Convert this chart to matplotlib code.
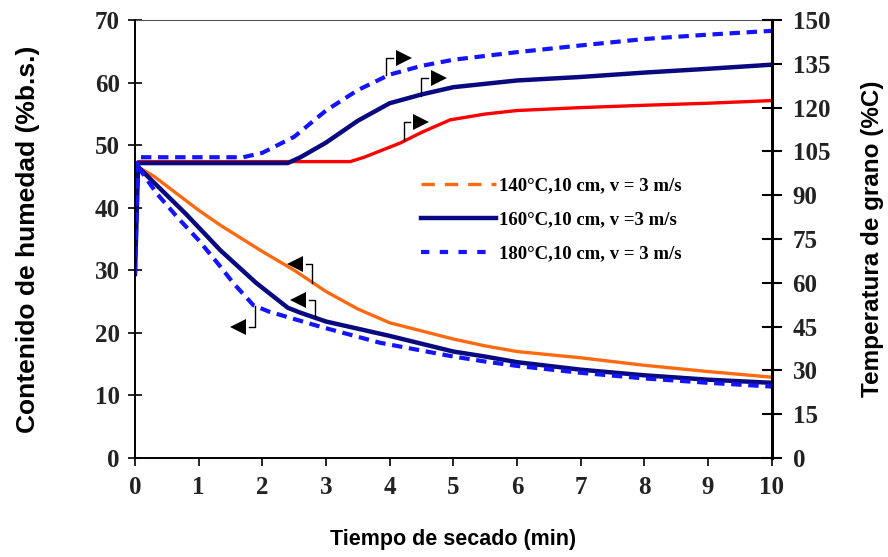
import numpy as np
import matplotlib
matplotlib.use("Agg")
import matplotlib.pyplot as plt
from matplotlib.lines import Line2D

# contenido de humedad (%b.s.) vs tiempo (min)
t_h140 = [0.05, 0.3, 1.0, 1.34, 2.0, 2.5, 3.0, 3.5, 4.0, 5.0, 5.5, 6.0, 7.0, 8.0, 9.0, 10.0]
h140 = [46.5, 45.0, 39.6, 37.2, 33.0, 30.0, 26.6, 23.8, 21.6, 19.0, 17.9, 17.0, 16.0, 14.8, 13.8, 12.9]
t_h160 = [0.05, 0.3, 0.8, 1.34, 1.9, 2.4, 2.6, 3.0, 4.0, 5.0, 5.5, 6.0, 7.0, 8.0, 9.0, 10.0]
h160 = [46.5, 44.0, 39.0, 33.2, 28.0, 24.0, 23.2, 21.8, 19.5, 17.0, 16.2, 15.3, 14.1, 13.2, 12.5, 12.0]
t_h180 = [0.05, 0.34, 0.68, 1.0, 1.34, 1.54, 1.86, 2.1, 2.9, 3.85, 5.0, 5.5, 6.0, 7.0, 8.0, 9.0, 10.0]
h180 = [46.5, 42.3, 38.3, 34.8, 30.6, 28.0, 24.4, 23.4, 21.0, 18.4, 16.2, 15.4, 14.7, 13.6, 12.7, 12.0, 11.4]

# temperatura de grano (C) vs tiempo (min)
t_T140 = [0.0, 0.05, 1.0, 2.0, 3.0, 3.38, 3.6, 4.17, 4.5, 4.95, 5.5, 6.0, 7.0, 8.0, 9.0, 10.0]
T140 = [66, 101.5, 101.5, 101.5, 101.5, 101.5, 103, 107.9, 111.5, 115.8, 117.8, 119.0, 120.0, 120.8, 121.5, 122.4]
t_T160 = [0.0, 0.05, 1.0, 2.0, 2.4, 2.6, 3.0, 3.5, 4.0, 4.5, 5.0, 6.0, 7.0, 8.0, 9.0, 10.0]
T160 = [63, 101, 101, 101, 101, 103, 108, 115.5, 121.5, 124.5, 127, 129.3, 130.5, 132, 133.3, 134.7]
t_T180 = [0.0, 0.05, 1.0, 1.7, 2.0, 2.5, 3.0, 3.5, 4.0, 4.5, 5.0, 6.0, 7.0, 8.0, 9.0, 10.0]
T180 = [63, 103, 103, 103, 104.5, 110, 119, 126, 131.3, 134.3, 136.4, 139, 141.3, 143.5, 145, 146.3]

labels = ["140°C,10 cm, v = 3 m/s", "160°C,10 cm, v =3 m/s", "180°C,10 cm, v = 3 m/s"]

c_or = "#FF6A10"
c_red = "#FF0000"
c_navy = "#0A0A80"
c_blue = "#1414FF"

serif = ["Liberation Serif", "DejaVu Serif"]
sans = ["Liberation Sans", "DejaVu Sans"]

fig = plt.figure(figsize=(8.88, 5.57), dpi=100)
ax = fig.add_axes([0.152, 0.178, 0.717, 0.786])
ax2 = ax.twinx()

ax.plot(t_h140, h140, color=c_or, lw=2.4, solid_capstyle="butt")
ax.plot(t_h160, h160, color=c_navy, lw=3.2)
ax.plot(t_h180, h180, color=c_blue, lw=3.0, dashes=(2.5, 1.6))

ax2.plot(t_T140, T140, color=c_red, lw=2.4)
ax2.plot(t_T160, T160, color=c_navy, lw=3.2)
ax2.plot(t_T180, T180, color=c_blue, lw=3.0, dashes=(2.5, 1.6))


def flag(axis, x, y0, y1, side):
    # flecha tipo bandera apuntando al eje correspondiente
    d = 0.1 if side == "right" else -0.1
    axis.plot([x, x, x + d], [y0, y1, y1], color="black", lw=1.0)
    axis.plot([x + 2.7 * d], [y1], marker=">" if side == "right" else "<",
              color="black", markersize=12, markeredgewidth=0)


# flechas de temperatura (eje derecho)
flag(ax2, 3.95, 131.3, 137.0, "right")
flag(ax2, 4.5, 124.0, 130.0, "right")
flag(ax2, 4.22, 109.0, 115.0, "right")
# flechas de humedad (eje izquierdo)
flag(ax, 2.78, 27.9, 31.0, "left")
flag(ax, 2.83, 22.6, 25.2, "left")
flag(ax, 1.89, 24.2, 21.0, "left")

ax.set_xlim(0, 10)
ax.set_ylim(0, 70)
ax2.set_ylim(0, 150)
ax.set_xticks(range(0, 11))
ax.set_yticks(range(0, 71, 10))
ax2.set_yticks(range(0, 151, 15))

for a in (ax, ax2):
    for s in a.spines.values():
        s.set_linewidth(1.2)
ax2.spines["right"].set_linewidth(2.2)
ax.spines["top"].set_linewidth(0.8)
ax.spines["top"].set_color("#555555")
ax2.spines["top"].set_visible(False)

ax.tick_params(axis="x", direction="out", length=6, width=1.2, pad=7)
ax.tick_params(axis="y", direction="inout", length=10, width=1.2, pad=6)
ax2.tick_params(axis="y", direction="inout", length=14, width=1.5, pad=8)
for lab in ax.get_xticklabels() + ax.get_yticklabels() + ax2.get_yticklabels():
    lab.set_fontfamily(serif)
    lab.set_fontweight("bold")
    lab.set_fontsize(18)
    lab.set_color("#222222")

ax.set_xlabel("Tiempo de secado (min)", family=sans, fontweight="bold", fontsize=15.5, labelpad=22)
ax.set_ylabel("Contenido de humedad (%b.s.)", family=sans, fontweight="bold", fontsize=19, labelpad=39)
ax2.set_ylabel("Temperatura de grano (%C)", family=sans, fontweight="bold", fontsize=17.5, labelpad=22)

handles = [Line2D([], [], color=c_or, lw=2.4, dashes=(4, 3)),
           Line2D([], [], color=c_navy, lw=3.2),
           Line2D([], [], color=c_blue, lw=3.0, dashes=(2, 2.5))]
ax2.legend(handles, labels, loc="upper left", bbox_to_anchor=(0.423, 0.68), frameon=False,
           prop={"family": serif, "weight": "bold", "size": 13.5}, handlelength=4.0,
           labelspacing=0.9, handletextpad=0.15)

fig.savefig("out.png", dpi=100)
